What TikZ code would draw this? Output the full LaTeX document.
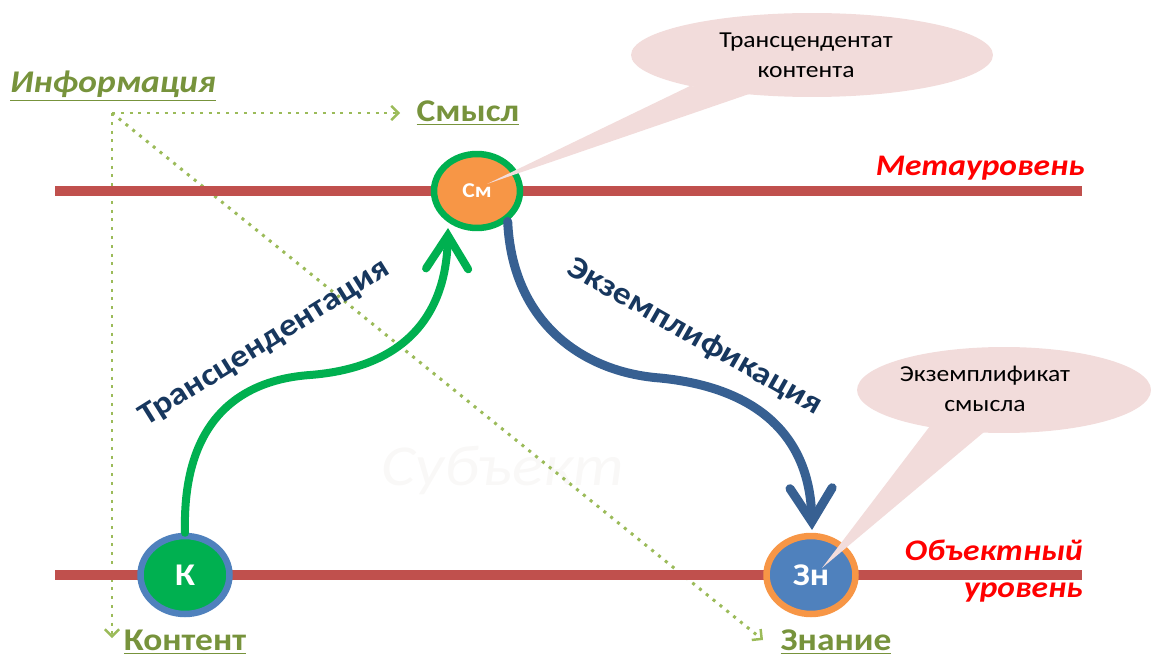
\documentclass[tikz,border=0pt]{standalone}
\usepackage{fontspec}
\setmainfont{Carlito}[FakeStretch=1.12]
\usetikzlibrary{arrows.meta,shapes.geometric}
\definecolor{redline}{HTML}{C0504D}
\definecolor{olivetxt}{HTML}{77933C}
\definecolor{dotgreen}{HTML}{9BBB59}
\definecolor{kgreen}{HTML}{00B050}
\definecolor{korange}{HTML}{F79646}
\definecolor{kblue}{HTML}{4F81BD}
\definecolor{arrblue}{HTML}{376092}
\definecolor{navytxt}{HTML}{17375E}
\definecolor{callfill}{HTML}{F2DCDB}
\definecolor{watermark}{HTML}{F9F8F7}
\begin{document}
\begin{tikzpicture}[x=0.02cm,y=-0.02cm,
  lvl/.style={draw=redline, line width=0.2cm},
  infoarrow/.style={draw=dotgreen, line width=1.7pt, dash pattern=on 1.7pt off 3.3pt,
     -{Straight Barb[length=4pt,width=8pt,line width=1.4pt]}},
  term/.style={text=olivetxt, font=\fontsize{18}{22}\selectfont\bfseries, inner sep=0pt},
  levellbl/.style={text=red, font=\fontsize{17}{21}\selectfont\bfseries\itshape, inner sep=0pt, align=right},
  ball/.style={ellipse, line width=0.13cm, text=white, font=\fontsize{18}{20}\selectfont\bfseries,
     minimum width=1.78cm, minimum height=1.56cm, inner sep=0pt},
  flowlbl/.style={text=navytxt, font=\fontsize{18}{20}\selectfont\bfseries, inner sep=0pt},
  callout/.style={ellipse, fill=callfill, inner sep=0pt},
  calltxt/.style={text=black, font=\fontsize{13}{17}\selectfont, align=center, inner sep=0pt}
]
\useasboundingbox (0,0) rectangle (1151,658);

% watermark
\node[text=watermark, font=\fontsize{33}{36}\selectfont\itshape, inner sep=0pt] (subj) at (503,470) {Субъект};

% information dotted arrows
\coordinate (inf) at (112,113);
\node[term, font=\fontsize{18}{22}\selectfont\bfseries\itshape] (infolbl) at (113,86) {\underline{Информация}};
\node[term] (smysl) at (468,113) {\underline{Смысл}};
\node[term] (kontent) at (185,642) {\underline{Контент}};
\node[term] (znanie) at (836,642) {\underline{Знание}};
\coordinate (smtip) at (400,113);
\coordinate (ktip) at (112,638);
\coordinate (zntip) at (763,640);
\draw[infoarrow] (inf) -- (smtip);
\draw[infoarrow] (inf) -- (ktip);
\draw[infoarrow] (inf) -- (zntip);

% levels
\coordinate (m1) at (55,191);
\coordinate (m2) at (1082,191);
\coordinate (o1) at (55,575);
\coordinate (o2) at (1082,575);
\draw[lvl] (m1) -- (m2);
\draw[lvl] (o1) -- (o2);
\node[levellbl, anchor=south east] (meta) at (1085,181) {Метауровень};
\node[levellbl, anchor=north east] (obj) at (1083,540) {Объектный\\уровень};

% nodes
\node[ball, draw=kgreen, fill=korange, font=\fontsize{12}{14}\selectfont\bfseries,
      minimum width=1.72cm, minimum height=1.48cm] (sm) at (477,191) {См};
\node[ball, draw=kblue, fill=kgreen] (k) at (185,575) {К};
\node[ball, draw=korange, fill=kblue] (zn) at (811,575) {Зн};

% flows
\draw[draw=kgreen, line width=0.16cm, line cap=round,
      -{Straight Barb[length=19pt,width=24pt,line cap=round]}]
  (k.north) .. controls (182,420) and (240,380) .. (310,375)
  .. controls (400,368) and (446,320) .. (448,228);
\draw[draw=arrblue, line width=0.18cm, line cap=round,
      -{Straight Barb[length=19pt,width=24pt,line cap=round]}]
  (sm.south east) ++(-2,2) .. controls (512,320) and (580,372) .. (660,378)
  .. controls (762,388) and (810,440) .. (812,530);
\node[flowlbl, rotate=32] (trans) at (265,343) {Трансцендентация};
\node[flowlbl, rotate=-29.5] (exem) at (695,337) {Экземплификация};

% callouts
\node[callout, minimum width=7.24cm, minimum height=1.68cm] (c1) at (812,55) {};
\fill[callfill] (690,86) -- (487,184) -- (752,93) -- cycle;
\node[calltxt] (c1t) at (806,55) {Трансцендентат\\контента};
\node[callout, minimum width=5.88cm, minimum height=1.72cm] (c2) at (1004,390) {};
\fill[callfill] (930,426) -- (822,568) -- (990,427) -- cycle;
\node[calltxt] (c2t) at (985,389) {Экземплификат\\смысла};
\end{tikzpicture}
\end{document}
